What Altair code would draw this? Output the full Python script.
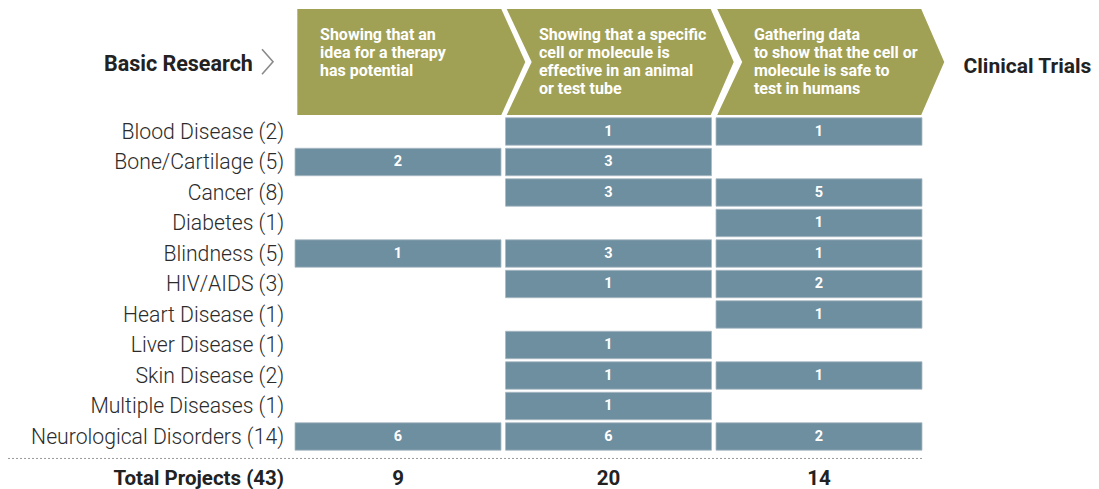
import altair as alt
import pandas as pd

# ---------------- data ----------------
categories = ["Blood Disease (2)", "Bone/Cartilage (5)", "Cancer (8)", "Diabetes (1)",
              "Blindness (5)", "HIV/AIDS (3)", "Heart Disease (1)", "Liver Disease (1)",
              "Skin Disease (2)", "Multiple Diseases (1)", "Neurological Disorders (14)"]
stage1 = [0, 2, 0, 0, 1, 0, 0, 0, 0, 0, 6]
stage2 = [1, 3, 3, 0, 3, 1, 0, 1, 1, 1, 6]
stage3 = [1, 0, 5, 1, 1, 2, 1, 0, 1, 0, 2]
totals = [9, 20, 14]
total_label = "Total Projects (43)"
stage_text = [
    "Showing that an\nidea for a therapy\nhas potential",
    "Showing that a specific\ncell or molecule is\neffective in an animal\nor test tube",
    "Gathering data\nto show that the cell or\nmolecule is safe to\ntest in humans",
]
left_title = "Basic Research"
right_title = "Clinical Trials"

# ---------------- styles / geometry (stage units on x, row units on y) ----------------
BAR = "#6e8fa0"
OLIVE = "#a1a156"
FONT = "Roboto"

FIRST_ARROW = "M-0.858,-0.4417L0.842,-0.4417L1.042,0L0.842,0.4417L-0.858,0.4417Z"
NEXT_ARROW = "M-0.867,-0.4417L0.833,-0.4417L1.025,0L0.833,0.4417L-0.867,0.4417L-0.659,0Z"
head_mid = -2.279
text_x = [0.119, 1.159, 2.18]
label_x = -0.052
total_y = 11.39

rows = []
for s, vals in enumerate([stage1, stage2, stage3]):
    for i, v in enumerate(vals):
        if v > 0:
            rows.append({"s": s, "i": i, "v": v})
bars_df = pd.DataFrame(rows)

cat_df = pd.DataFrame({"t": categories, "i": list(range(len(categories))),
                       "x": [label_x] * len(categories)})
arrow_df = pd.DataFrame({"s": [0, 1, 2], "y": [head_mid] * 3, "first": [1, 0, 0]})
head_text_df = pd.DataFrame({"x": text_x, "y": [-3.0] * 3, "t": stage_text})
totals_df = pd.DataFrame({"s": [0, 1, 2], "y": [total_y] * 3, "t": [str(t) for t in totals]})

XD = [0, 3]
YD = [-0.5, 10.5]


def X(field):
    return alt.X(field, scale=alt.Scale(domain=XD, nice=False, zero=False), axis=None)


def Y(field):
    return alt.Y(field, scale=alt.Scale(domain=YD, nice=False, zero=False, reverse=True), axis=None)


bars = alt.Chart(bars_df).transform_calculate(
    s1="datum.s + 1", y0="datum.i - 0.45", y1="datum.i + 0.45"
).mark_bar(color=BAR, x2Offset=-4.5, stroke="#a9bac4", strokeWidth=0.8).encode(
    x=X("s:Q"), x2="s1:Q", y=Y("y0:Q"), y2="y1:Q",
)

cat_text = alt.Chart(cat_df).mark_text(
    font=FONT, fontWeight=300, fontSize=21.2, color="#2b2b2b", align="right",
    baseline="middle", dy=1
).encode(x=X("x:Q"), y=Y("i:Q"), text="t:N")

bar_text = alt.Chart(bars_df).transform_calculate(xc="datum.s + 0.5").mark_text(
    color="white", font=FONT, fontWeight="bold", fontSize=14.5, xOffset=-2.25,
    baseline="middle", align="center"
).encode(x=X("xc:Q"), y=Y("i:Q"), text="v:Q")

arrow1 = alt.Chart(arrow_df).transform_filter("datum.first == 1").transform_calculate(
    xc="datum.s + 0.5").mark_point(
    shape=FIRST_ARROW, filled=True, color=OLIVE, opacity=1, size=240 * 240, strokeWidth=0
).encode(x=X("xc:Q"), y=Y("y:Q"))

arrow2 = alt.Chart(arrow_df).transform_filter("datum.first == 0").transform_calculate(
    xc="datum.s + 0.5").mark_point(
    shape=NEXT_ARROW, filled=True, color=OLIVE, opacity=1, size=240 * 240, strokeWidth=0
).encode(x=X("xc:Q"), y=Y("y:Q"))

head_text = alt.Chart(head_text_df).mark_text(
    color="white", font=FONT, fontWeight="bold", fontSize=16, align="left",
    baseline="alphabetic", lineBreak="\n", lineHeight=18
).encode(x=X("x:Q"), y=Y("y:Q"), text="t:N")

left_t = alt.Chart(pd.DataFrame({"t": [left_title], "x": [-0.2], "y": [-1.98]})).mark_text(
    font=FONT, fontWeight="bold", fontSize=21.5, color="#222222", align="right",
    baseline="alphabetic"
).encode(x=X("x:Q"), y=Y("y:Q"), text="t:N")

chev = alt.Chart(pd.DataFrame({"x": [-0.1306], "y": [-2.29]})).mark_point(
    shape="M-0.44,-1L0.44,0L-0.44,1", filled=False, color="#8a8a8a", opacity=1,
    strokeWidth=1.6, size=625
).encode(x=X("x:Q"), y=Y("y:Q"))

right_t = alt.Chart(pd.DataFrame({"t": [right_title], "x": [3.176], "y": [-1.934]})).mark_text(
    font=FONT, fontWeight="bold", fontSize=21, color="#222222", align="left",
    baseline="alphabetic"
).encode(x=X("x:Q"), y=Y("y:Q"), text="t:N")

rule = alt.Chart(pd.DataFrame({"x": [-1.3634], "x2": [2.983], "y": [10.72]})).mark_rule(
    color="#9a9a9a", strokeDash=[2, 2], strokeWidth=1
).encode(x=X("x:Q"), x2="x2:Q", y=Y("y:Q"))

tot_text = alt.Chart(totals_df).transform_calculate(xc="datum.s + 0.5").mark_text(
    font=FONT, fontWeight="bold", fontSize=20.5, color="#222222", align="center",
    baseline="middle", xOffset=-2.25
).encode(x=X("xc:Q"), y=Y("y:Q"), text="t:N")

tot_label = alt.Chart(pd.DataFrame({"t": [total_label], "x": [label_x], "y": [total_y]})).mark_text(
    font=FONT, fontWeight="bold", fontSize=20.5, color="#222222", align="right",
    baseline="middle"
).encode(x=X("x:Q"), y=Y("y:Q"), text="t:N")

chart = alt.layer(bars, arrow1, arrow2, head_text, left_t, chev, right_t, cat_text, bar_text,
                  rule, tot_text, tot_label).properties(
    width=631.5, height=335.5,
    autosize=alt.AutoSizeParams(type="none"),
    padding={"left": 287, "top": 108.25, "right": 164.5, "bottom": 37.25},
).configure_view(strokeWidth=0)

chart.save("out.html", embed_options={"renderer": "svg", "actions": False})
